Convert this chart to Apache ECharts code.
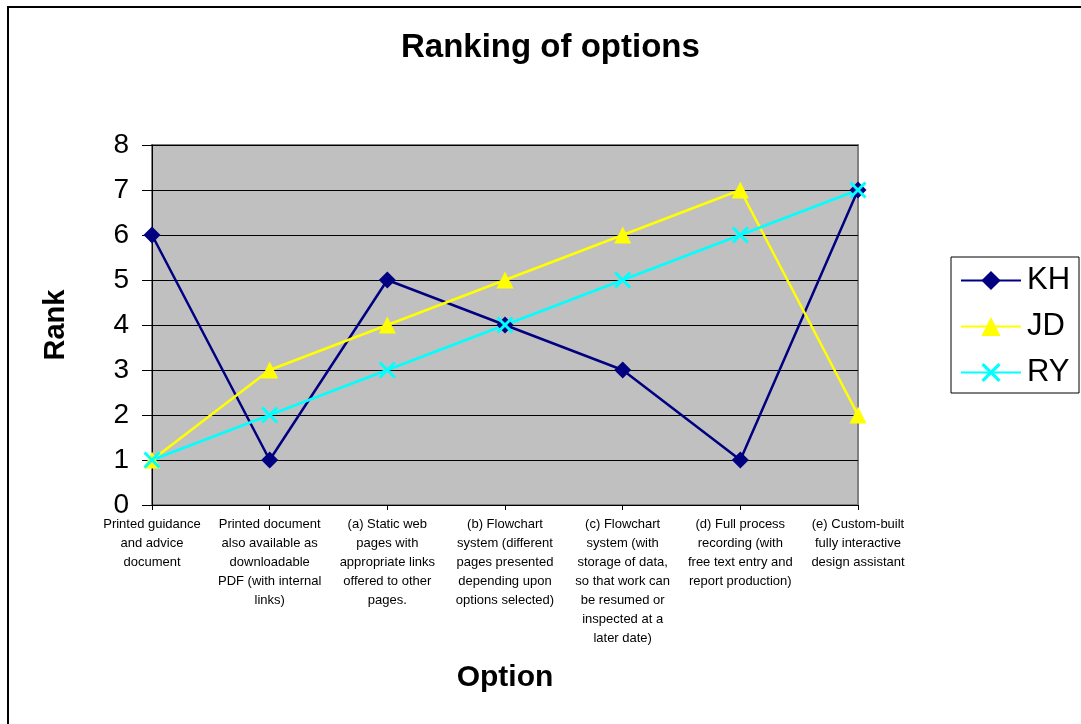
<!DOCTYPE html>
<html>
<head>
<meta charset="utf-8">
<script src="https://cdn.jsdelivr.net/npm/echarts@6/dist/echarts.min.js"></script>
<style>
html,body{margin:0;padding:0;background:#fff;}
#c{width:1081px;height:724px;}
</style>
</head>
<body>
<div id="c"></div>
<script>
const categories = [
  "Printed guidance\nand advice\ndocument",
  "Printed document\nalso available as\ndownloadable\nPDF (with internal\nlinks)",
  "(a) Static web\npages with\nappropriate links\noffered to other\npages.",
  "(b) Flowchart\nsystem (different\npages presented\ndepending upon\noptions selected)",
  "(c) Flowchart\nsystem (with\nstorage of data,\nso that work can\nbe resumed or\ninspected at a\nlater date)",
  "(d) Full process\nrecording (with\nfree text entry and\nreport production)",
  "(e) Custom-built\nfully interactive\ndesign assistant"
];
const KH = [6, 1, 5, 4, 3, 1, 7];
const JD = [1, 3, 4, 5, 6, 7, 2];
const RY = [1, 2, 3, 4, 5, 6, 7];

const FONT = '"Liberation Sans", Arial, sans-serif';
const crossPath = 'path://M0,1.2L1.2,0L5,3.8L8.8,0L10,1.2L6.2,5L10,8.8L8.8,10L5,6.2L1.2,10L0,8.8L3.8,5Z';

const chart = echarts.init(document.getElementById('c'), null, {renderer: 'canvas'});
chart.setOption({
  backgroundColor: '#fff',
  animation: false,
  textStyle: {fontFamily: FONT},
  title: {
    text: 'Ranking of options',
    left: 401,
    top: 31,
    padding: 0,
    textStyle: {fontFamily: FONT, fontSize: 33, fontWeight: 'bold', color: '#000'}
  },
  graphic: [
    {type: 'rect', shape: {x: 8, y: 7, width: 1200, height: 900}, style: {fill: 'none', stroke: '#000', lineWidth: 2}, silent: true},
    {type: 'rect', shape: {x: 951, y: 257, width: 128, height: 136}, style: {fill: '#fff', stroke: '#000', lineWidth: 1}, z: -1, silent: true}
  ],
  legend: {
    orient: 'vertical',
    left: 951,
    top: 257,
    padding: [8, 0, 8, 9],
    itemWidth: 60,
    itemHeight: 24,
    itemGap: 15,
    textStyle: {fontFamily: FONT, fontSize: 31, color: '#000', lineHeight: 30, padding: [0, 0, 0, 1]},
    data: ['KH', 'JD', 'RY']
  },
  grid: {
    left: 152, top: 145, right: 223, bottom: 219,
    show: true,
    backgroundColor: '#c0c0c0',
    borderColor: '#808080',
    borderWidth: 2
  },
  xAxis: {
    type: 'category',
    data: categories,
    boundaryGap: false,
    name: 'Option',
    nameLocation: 'middle',
    nameGap: 158,
    nameTextStyle: {fontFamily: FONT, fontSize: 30, fontWeight: 'bold', color: '#000'},
    axisLine: {lineStyle: {color: '#000', width: 1}},
    axisTick: {show: true, length: 5, inside: false, lineStyle: {color: '#000'}},
    axisLabel: {
      interval: 0, margin: 10, color: '#000', fontFamily: FONT, fontSize: 13, lineHeight: 19, align: 'center'
    },
    splitLine: {show: false}
  },
  yAxis: {
    type: 'value',
    min: 0, max: 8, interval: 1,
    name: 'Rank',
    nameLocation: 'middle',
    nameGap: 82,
    nameTextStyle: {fontFamily: FONT, fontSize: 29, fontWeight: 'bold', color: '#000'},
    axisLine: {show: true, lineStyle: {color: '#000', width: 1}},
    axisTick: {show: true, length: 10, lineStyle: {color: '#000'}},
    axisLabel: {margin: 23, color: '#000', fontFamily: FONT, fontSize: 28},
    splitLine: {show: true, lineStyle: {color: '#000', width: 1}}
  },
  series: [
    {
      name: 'KH', type: 'line', data: KH,
      symbol: 'diamond', symbolSize: 17,
      lineStyle: {color: '#000080', width: 2.5},
      itemStyle: {color: '#000080'}
    },
    {
      name: 'JD', type: 'line', data: JD,
      symbol: 'triangle', symbolSize: 17,
      lineStyle: {color: '#ffff00', width: 2.5},
      itemStyle: {color: '#ffff00'}
    },
    {
      name: 'RY', type: 'line', data: RY,
      symbol: crossPath, symbolSize: 17,
      lineStyle: {color: '#00ffff', width: 2.5},
      itemStyle: {color: '#00ffff'}
    }
  ]
});
</script>
</body>
</html>
